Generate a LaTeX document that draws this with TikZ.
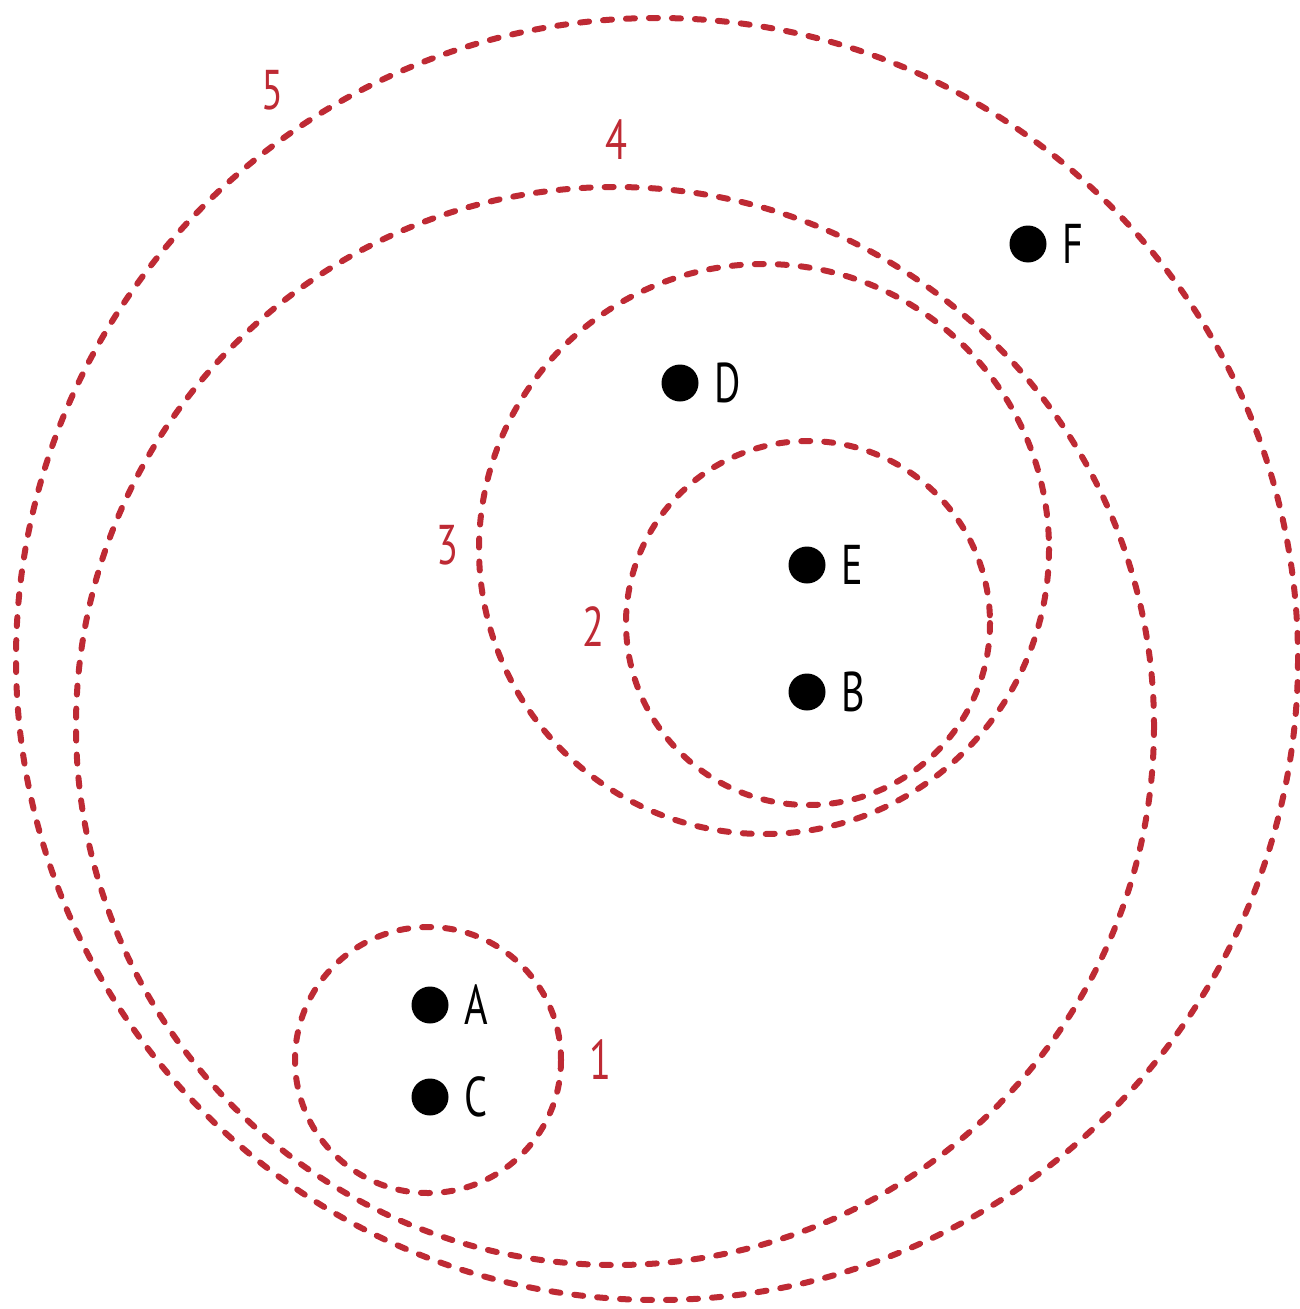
\documentclass[tikz,border=0pt]{standalone}
\usepackage{fontspec}
\usepackage{tikz}
\usetikzlibrary{positioning}
\newfontfamily\labelfont[FakeStretch=0.72]{PT Sans}
\definecolor{clusterred}{RGB}{190,42,52}
\tikzset{
  cluster/.style={
    draw=clusterred,
    line width=6pt,
    line cap=round,
    dash pattern=on 9pt off 14pt
  },
  point/.style={
    circle,
    fill=black,
    inner sep=0pt,
    minimum size=37pt
  },
  pointname/.style={
    font=\labelfont\fontsize{56}{60}\selectfont,
    inner sep=0pt,
    anchor=west
  },
  levelname/.style={
    font=\labelfont\fontsize{56}{60}\selectfont,
    text=clusterred,
    inner sep=0pt
  }
}
\begin{document}
\begin{tikzpicture}[x=1pt,y=-1pt,node distance=16pt]
  \useasboundingbox (0,0) rectangle (1299,1309);
  % clusters
  \draw[cluster] (657,659) circle (641);
  \draw[cluster] (615,726) circle (539);
  \draw[cluster] (764,549) circle (285);
  \draw[cluster] (808,623) circle (182);
  \draw[cluster] (428,1060) circle (133);
  % levels
  \node[levelname] (l5) at (272,90) {5};
  \node[levelname] (l4) at (616,140) {4};
  \node[levelname] (l3) at (447,545) {3};
  \node[levelname] (l2) at (593,627) {2};
  \node[levelname] (l1) at (600,1060) {1};
  % points
  \node[point] (F) at (1028,244) {};
  \node[point] (D) at (680,383) {};
  \node[point] (E) at (807,565) {};
  \node[point] (B) at (807,692) {};
  \node[point] (A) at (430,1005) {};
  \node[point] (C) at (430,1097) {};
  \node[pointname, right=of F] (nF) {F};
  \node[pointname, right=of D] (nD) {D};
  \node[pointname, right=of E] (nE) {E};
  \node[pointname, right=of B] (nB) {B};
  \node[pointname, right=of A] (nA) {A};
  \node[pointname, right=of C] (nC) {C};
\end{tikzpicture}
\end{document}
